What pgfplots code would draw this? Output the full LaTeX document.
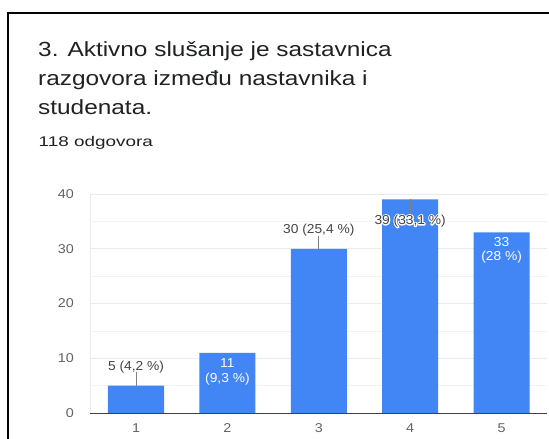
\documentclass[border=0pt]{standalone}
\usepackage{fontspec}
\setmainfont{Liberation Sans}
\newfontfamily\titlefont[FakeStretch=1.19]{Liberation Sans}
\newfontfamily\subfont[FakeStretch=1.35]{Liberation Sans}
\newfontfamily\tickfont[FakeStretch=1.12]{Liberation Sans}
\newfontfamily\labfont[FakeStretch=1.06]{Liberation Sans}
\usepackage{pgfplots}
\pgfplotsset{compat=1.18}
\definecolor{gbar}{HTML}{4285F4}
\definecolor{gtitle}{HTML}{202124}
\definecolor{gtick}{HTML}{5F6368}
\definecolor{glab}{HTML}{444444}
\definecolor{ggrid}{HTML}{EBEBEB}
\newcommand\halotext[1]{\special{pdf:code q 1 Tr 2.4 w 1 J 1 j 1 1 1 RG}#1\special{pdf:code Q}}
\pgfplotstableread{
x y
1 5
2 11
3 30
4 39
5 33
}\datatable
\begin{document}
\begin{tikzpicture}[x=1pt,y=1pt]
\useasboundingbox (0,0) rectangle (549,439);
\draw[line width=2pt,black] (8,0) -- (8,426) -- (549,426);
\node[anchor=base west,inner sep=0,text=gtitle,font=\titlefont\fontsize{20.5}{24}\selectfont] at (38,382) {3. Aktivno slušanje je sastavnica};
\node[anchor=base west,inner sep=0,text=gtitle,font=\titlefont\fontsize{20.5}{24}\selectfont] at (38,353) {razgovora između nastavnika i};
\node[anchor=base west,inner sep=0,text=gtitle,font=\titlefont\fontsize{20.5}{24}\selectfont] at (38,324) {studenata.};
\node[anchor=base west,inner sep=0,text=gtitle,font=\subfont\fontsize{14}{16}\selectfont] at (38.5,292) {118 odgovora};
\begin{axis}[
  at={(90.3pt,26pt)}, anchor=south west,
  scale only axis, width=457pt, height=219pt,
  xmin=0.5, xmax=5.5, ymin=0, ymax=40,
  axis x line*=bottom, axis y line*=left,
  x axis line style={color=black!75, line width=0.9pt},
  y axis line style={color=ggrid, line width=0.6pt},
  xtick={1,2,3,4,5}, ytick={0,10,20,30,40}, minor ytick={5,15,25,35},
  major tick length=0pt, minor tick length=0pt,
  ymajorgrids, yminorgrids,
  major grid style={color=ggrid, line width=0.8pt},
  minor grid style={color=ggrid!60, line width=0.6pt},
  /pgf/number format/assume math mode=true,
  ticklabel style={font=\tickfont\fontsize{12.8}{15}\selectfont, text=gtick},
  yticklabel style={xshift=-13pt},
  xticklabel style={yshift=-7pt},
  clip=false,
]
\addplot[ybar, bar width=56pt, fill=gbar, draw=none] table[x=x,y=y] {\datatable};
\draw[gray, line width=0.7pt] (axis cs:1,5) -- (axis cs:1,7.4);
\node[text=glab,font=\labfont\fontsize{13}{15}\selectfont] at (axis cs:1,8.4) {5 (4,2 \%)};
\node[text=white,font=\labfont\fontsize{13}{15}\selectfont] at (axis cs:2,9.15) {11};
\node[text=white,font=\labfont\fontsize{13}{15}\selectfont] at (axis cs:2,6.2) {(9,3 \%)};
\draw[gray, line width=0.7pt] (axis cs:3,30) -- (axis cs:3,32.3);
\node[text=glab,font=\labfont\fontsize{13}{15}\selectfont] at (axis cs:3,33.4) {30 (25,4 \%)};
\draw[gray, line width=0.7pt] (axis cs:4,39) -- (axis cs:4,36.2);
\node[text=white,font=\labfont\fontsize{13}{15}\selectfont] at (axis cs:4,35.07) {\halotext{39 (33,1 \%)}};
\node[text=glab,font=\labfont\fontsize{13}{15}\selectfont] at (axis cs:4,35.07) {39 (33,1 \%)};
\node[text=white,font=\labfont\fontsize{13}{15}\selectfont] at (axis cs:5,31.2) {33};
\node[text=white,font=\labfont\fontsize{13}{15}\selectfont] at (axis cs:5,28.5) {(28 \%)};
\end{axis}
\end{tikzpicture}
\end{document}
